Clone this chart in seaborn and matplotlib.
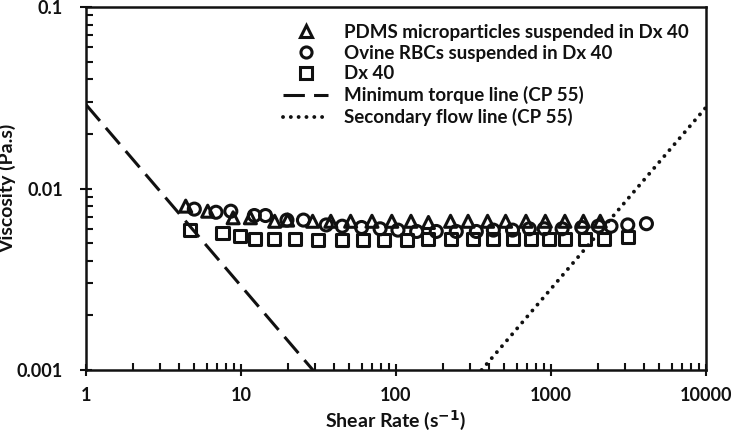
import matplotlib
matplotlib.use("Agg")
import matplotlib.pyplot as plt
import matplotlib.ticker as mticker
from matplotlib.lines import Line2D
import seaborn as sns

# Data (log-log)
pdms_rate = [4.4, 6.1, 8.9, 11.5, 16.5, 20, 29, 38, 51, 70, 94, 125, 162, 225, 292,
             390, 510, 690, 920, 1230, 1620, 2080]
pdms_visc = [0.0080, 0.0075, 0.0069, 0.0069, 0.0066, 0.0067, 0.0066, 0.0066, 0.0066,
             0.0066, 0.0066, 0.0066, 0.0065, 0.0066, 0.0066, 0.0066, 0.0066, 0.0066,
             0.0066, 0.0066, 0.0066, 0.0066]

rbc_rate = [5.0, 6.9, 8.6, 12.2, 14.4, 19.8, 25.3, 35.5, 45, 60, 79, 103, 136, 182,
            245, 330, 425, 565, 725, 905, 1180, 1580, 2020, 2440, 3130, 4130]
rbc_visc = [0.0077, 0.0074, 0.0075, 0.0071, 0.0071, 0.0067, 0.0067, 0.0063, 0.0062,
            0.0061, 0.0060, 0.0059, 0.0058, 0.0058, 0.0058, 0.0058, 0.0059, 0.0059,
            0.0060, 0.0060, 0.0060, 0.0061, 0.0062, 0.0062, 0.0063, 0.0064]

dx_rate = [4.7, 7.6, 9.9, 12.4, 16.4, 22.2, 31.5, 45, 61, 84, 118, 162, 228, 315,
           425, 565, 740, 970, 1230, 1650, 2200, 3150]
dx_visc = [0.0059, 0.0057, 0.0055, 0.0053, 0.0053, 0.0053, 0.0052, 0.0052, 0.0052,
           0.0052, 0.0052, 0.0053, 0.0053, 0.0053, 0.0053, 0.0053, 0.0053, 0.0053,
           0.0053, 0.0053, 0.0053, 0.0054]

torque_rate = [1, 30]
torque_visc = [0.029, 0.00097]
secondary_rate = [357, 10000]
secondary_visc = [0.001, 0.028]

labels = ["PDMS microparticles suspended in Dx 40",
          "Ovine RBCs suspended in Dx 40",
          "Dx 40",
          "Minimum torque line (CP 55)",
          "Secondary flow line (CP 55)"]

sns.set_theme(style="ticks")
plt.rcParams['font.family'] = ['Lato', 'DejaVu Sans']
plt.rcParams['font.weight'] = 'bold'

ink = '#111111'
fig = plt.figure(figsize=(7.33, 4.41), dpi=100)
ax = fig.add_axes([0.1173, 0.161, 0.8458, 0.823])

mk = dict(facecolor='none', edgecolor=ink, linewidth=2.2, s=75, zorder=3)
sns.scatterplot(x=pdms_rate, y=pdms_visc, marker='^', ax=ax, **mk)
sns.scatterplot(x=rbc_rate, y=rbc_visc, marker='o', ax=ax, **mk)
sns.scatterplot(x=dx_rate, y=dx_visc, marker='s', ax=ax, **mk)

ax.plot(torque_rate, torque_visc, color=ink, lw=2.2, dashes=(7, 3))
ax.plot(secondary_rate, secondary_visc, color=ink, lw=2.8,
        linestyle=(0, (0.01, 2.0)), dash_capstyle='round')

ax.set_xscale('log')
ax.set_yscale('log')
ax.set_xlim(1, 10000)
ax.set_ylim(0.001, 0.1)

ax.xaxis.set_major_formatter(mticker.FuncFormatter(lambda v, p: f"{v:g}"))
ax.yaxis.set_major_formatter(mticker.FuncFormatter(lambda v, p: f"{v:g}"))
ax.xaxis.set_minor_formatter(mticker.NullFormatter())
ax.yaxis.set_minor_formatter(mticker.NullFormatter())

ax.tick_params(which='major', direction='inout', length=9, width=1.5,
               color=ink, labelsize=13, labelcolor=ink, pad=8)
ax.tick_params(axis='y', which='major', pad=12)
ax.tick_params(which='minor', direction='in', length=5, width=1.5, color=ink)
ax.tick_params(top=False, right=False, which='both')
for s in ax.spines.values():
    s.set_linewidth(1.8)
    s.set_color(ink)
for t in ax.get_xticklabels() + ax.get_yticklabels():
    t.set_fontweight('bold')

ax.set_xlabel("Shear Rate (s$^{\\mathbf{-1}}$)", fontsize=14, fontweight='bold',
              color=ink, labelpad=3)
ax.set_ylabel("Viscosity (Pa.s)", fontsize=14, fontweight='bold', color=ink)
ax.yaxis.set_label_coords(-0.112, 0.5)

handles = [
    Line2D([], [], marker='^', ls='none', mfc='none', mec=ink, mew=2.2, ms=8),
    Line2D([], [], marker='o', ls='none', mfc='none', mec=ink, mew=2.2, ms=8),
    Line2D([], [], marker='s', ls='none', mfc='none', mec=ink, mew=2.2, ms=8),
    Line2D([], [], color=ink, lw=2.2, dashes=(7, 3)),
    Line2D([], [], color=ink, lw=2.8, linestyle=(0, (0.01, 2.0)),
           dash_capstyle='round'),
]
leg = ax.legend(handles, labels, loc='upper right', frameon=False,
                fontsize=13.5, handlelength=2.4, labelspacing=0.2,
                handletextpad=0.85, borderaxespad=0.5)
for t in leg.get_texts():
    t.set_fontweight('bold')
    t.set_color(ink)

fig.savefig('out.png', dpi=100)
